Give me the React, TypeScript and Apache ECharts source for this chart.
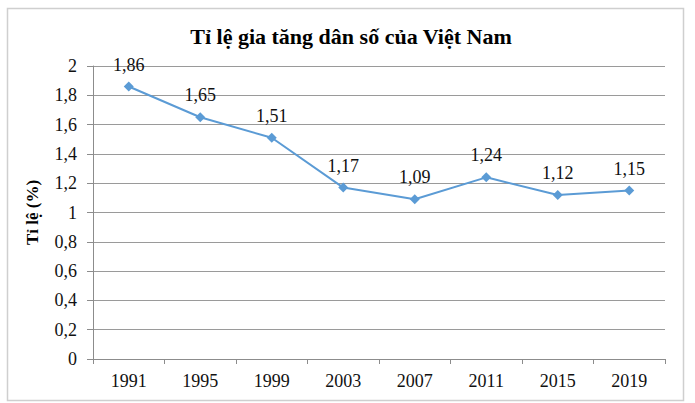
import * as React from 'react';
import * as echarts from 'echarts';

// Tỉ lệ gia tăng dân số (%) theo năm
const years = ['1991', '1995', '1999', '2003', '2007', '2011', '2015', '2019'];
const rates = [1.86, 1.65, 1.51, 1.17, 1.09, 1.24, 1.12, 1.15];

const FONT = 'Liberation Serif';
const comma = (v: number, digits: number) => v.toFixed(digits).replace('.', ',');

export default function App() {
  const chartRef = React.useRef<HTMLDivElement>(null);

  React.useEffect(() => {
    if (!chartRef.current) return;
    const chart = echarts.init(chartRef.current, undefined, { renderer: 'svg' });

    chart.setOption({
      animation: false,
      backgroundColor: '#ffffff',
      textStyle: { fontFamily: FONT },
      title: {
        text: 'Tỉ lệ gia tăng dân số của Việt Nam',
        left: 346,
        textAlign: 'center',
        top: 20,
        textStyle: { fontFamily: FONT, fontSize: 22, fontWeight: 'bold', color: '#000' },
      },
      graphic: [
        {
          type: 'rect',
          shape: { x: 7.5, y: 8.5, width: 676, height: 392 },
          style: { fill: 'none', stroke: '#cfcfcf', lineWidth: 1.5 },
          silent: true,
        },
      ],
      grid: { left: 93, right: 30, top: 66, bottom: 44 },
      xAxis: {
        type: 'category',
        data: years,
        boundaryGap: true,
        axisLine: { lineStyle: { color: '#8c8c8c', width: 1 } },
        axisTick: { show: true, length: 5, lineStyle: { color: '#8c8c8c' } },
        axisLabel: { fontFamily: FONT, fontSize: 18, color: '#111', margin: 13 },
      },
      yAxis: {
        type: 'value',
        min: 0,
        max: 2,
        interval: 0.2,
        name: 'Tỉ lệ (%)',
        nameLocation: 'middle',
        nameGap: 52,
        nameRotate: 90,
        nameTextStyle: { fontFamily: FONT, fontSize: 17, fontWeight: 'bold', color: '#000' },
        axisLine: { show: true, lineStyle: { color: '#8c8c8c', width: 1 } },
        axisTick: { show: true, length: 6, lineStyle: { color: '#8c8c8c' } },
        axisLabel: {
          fontFamily: FONT,
          fontSize: 18,
          color: '#111',
          margin: 16,
          formatter: (v: number) => String(Math.round(v * 10) / 10).replace('.', ','),
        },
        splitLine: { lineStyle: { color: '#9a9a9a', width: 1.2 } },
      },
      series: [
        {
          type: 'line',
          data: rates,
          symbol: 'diamond',
          symbolSize: 10,
          lineStyle: { color: '#5b9bd5', width: 2 },
          itemStyle: { color: '#5b9bd5' },
          label: {
            show: true,
            position: 'top',
            distance: 8,
            fontFamily: FONT,
            fontSize: 18,
            color: '#111',
            formatter: (p: any) => comma(p.value, 2),
          },
        },
      ],
    });

    return () => chart.dispose();
  }, []);

  return (
    <div
      ref={chartRef}
      style={{ position: 'absolute', left: 0, top: 0, width: 695, height: 403 }}
    />
  );
}
